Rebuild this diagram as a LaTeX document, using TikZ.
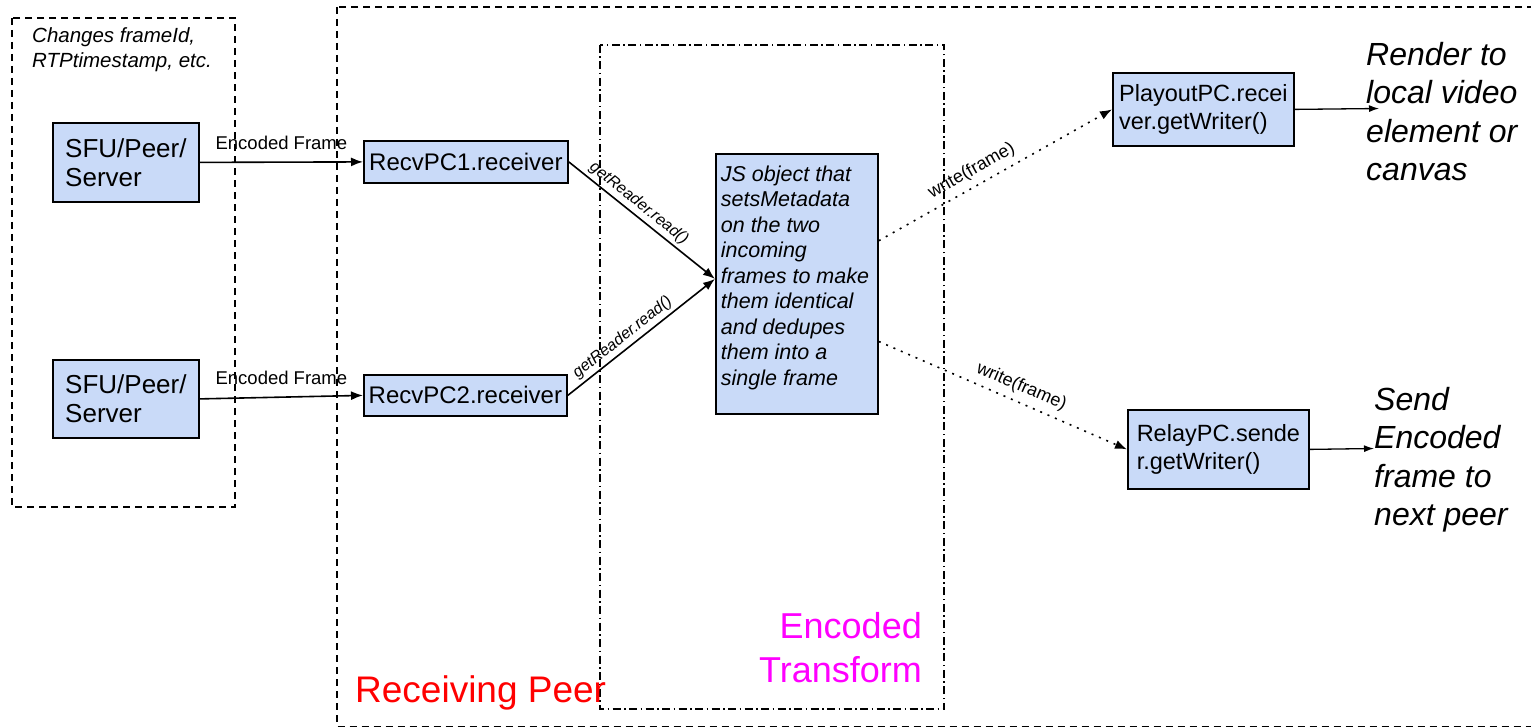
\documentclass[tikz,border=0pt]{standalone}
\usepackage{fontspec}
\setmainfont{Liberation Sans}
\usetikzlibrary{arrows.meta,calc}
\definecolor{boxblue}{HTML}{C9DAF8}
\definecolor{rpred}{HTML}{FF0000}
\definecolor{etmag}{HTML}{FF00FF}
\begin{document}
\begin{tikzpicture}[x=1pt,y=-1pt,
  blk/.style={draw=black, line width=1.8pt, fill=boxblue, inner sep=0pt, anchor=north west, align=left},
  arr/.style={line width=1.6pt, -{Latex[length=12pt,width=9pt]}},
  dotarr/.style={arr, dash pattern=on 2pt off 6pt},
  lbl/.style={font=\fontsize{18.5}{20}\selectfont, inner sep=2pt},
  slbl/.style={font=\itshape\fontsize{16}{18}\selectfont, inner sep=2pt, sloped},
  wlbl/.style={font=\fontsize{18}{19}\selectfont, inner sep=2pt, sloped},
  frame/.style={line width=1.5pt, dash pattern=on 7pt off 5pt},
  dashdot/.style={line width=1.5pt, dash pattern=on 8pt off 3.5pt on 1.5pt off 3.5pt},
  txt/.style={anchor=north west, inner sep=0pt, align=left}
]
\clip (0,0) rectangle (1531,727);
% frames
\draw[frame] (12,18) rectangle (235,507);
\draw[frame] (337,7) rectangle (1560,726.5);
\draw[dashdot] (600,45) rectangle (944,709);

% boxes
\node[blk, minimum width=146pt, minimum height=79pt, font=\fontsize{26}{29}\selectfont] (sfu1) at (52,122) {SFU/Peer/\\Server};
\node[blk, minimum width=146pt, minimum height=78pt, font=\fontsize{26}{29}\selectfont] (sfu2) at (52,359) {SFU/Peer/\\Server};
\node[blk, minimum width=204pt, minimum height=42pt, font=\fontsize{24}{28}\selectfont] (recv1) at (363,140) {RecvPC1.receiver};
\node[blk, minimum width=203pt, minimum height=41pt, font=\fontsize{24}{28}\selectfont] (recv2) at (363,374) {RecvPC2.receiver};
\node[blk, minimum width=162pt, minimum height=260pt, font=\itshape\fontsize{21.5}{25.5}\selectfont] (js) at (715,153)
  {\begin{minipage}[c][236pt][t]{152pt}\raggedright JS object that\\setsMetadata\\on the two\\incoming\\frames to make\\them identical\\and dedupes\\them into a\\single frame\end{minipage}};
\node[blk, minimum width=181pt, minimum height=73pt, font=\fontsize{23.5}{28}\selectfont] (play) at (1112,72) {PlayoutPC.recei\\ver.getWriter()};
\node[blk, minimum width=181pt, minimum height=79pt, font=\fontsize{23.5}{28}\selectfont] (relay) at (1127,409) {RelayPC.sende\\r.getWriter()};

% free texts
\node[txt, font=\itshape\fontsize{20.5}{25}\selectfont] (chg) at (32,27) {Changes frameId,\\RTPtimestamp, etc.};
\node[txt, font=\itshape\fontsize{32}{38.5}\selectfont] (render) at (1366,42) {Render to\\local video\\element or\\canvas};
\node[txt, font=\itshape\fontsize{32}{38.5}\selectfont] (send) at (1374,387) {Send\\Encoded\\frame to\\next peer};
\node[txt, text=rpred, font=\fontsize{37}{44}\selectfont] (rplab) at (355,675) {Receiving Peer};
\node[anchor=north east, inner sep=0pt, align=right, text=etmag, font=\fontsize{36}{44}\selectfont] (etlab) at (922,612) {Encoded\\Transform};

% connectors
\coordinate (rendpt) at (1379,108.5);
\coordinate (sendpt) at (1374,448.5);
\draw[arr] (sfu1.east) -- node[lbl, above=10pt]{Encoded Frame} (recv1.west);
\draw[arr] (sfu2.east) -- node[lbl, above=10pt]{Encoded Frame} (recv2.west);
\draw[arr] (recv1.east) -- node[slbl, pos=0.43, above=1pt]{getReader.read()} ([yshift=5pt]js.west);
\draw[arr] (recv2.east) -- node[slbl, pos=0.42, above=1pt]{getReader.read()} ([yshift=5pt]js.west);
\draw[dotarr] ($(js.north east)!0.335!(js.south east)$) -- node[wlbl, pos=0.43, above=4pt]{write(frame)} (play.west);
\draw[dotarr] ($(js.north east)!0.72!(js.south east)$) -- node[wlbl, pos=0.55, above=4pt]{write(frame)} (relay.west);
\draw[arr, line width=1.3pt, -{Latex[length=10pt,width=7pt]}] (play.east) -- (rendpt);
\draw[arr, line width=1.3pt, -{Latex[length=10pt,width=7pt]}] (relay.east) -- (sendpt);
\end{tikzpicture}
\end{document}
